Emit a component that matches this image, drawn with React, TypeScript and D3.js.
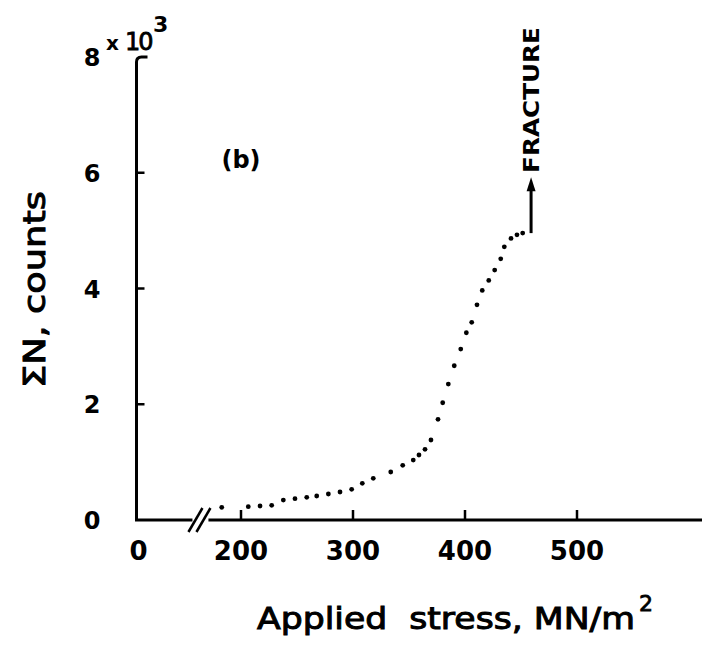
import React from "react";
import * as d3 from "d3";

// Applied stress (MN/m^2) and cumulative counts (ΣN)
const stress = [
  182.8, 206.5, 217, 227.4, 237.8, 248.2, 258.7, 267.6, 278, 288.4, 298.8, 308.3,
  318.1, 333.7, 344.4, 353.8, 358.9, 364.3, 369.6, 375.9, 380.1, 385.1, 390.4,
  396.2, 401.2, 406, 410.7, 415.4, 421.2, 426.5, 431.9, 435.1, 441.1, 446.4, 451.5,
];
const counts = [
  219, 230, 242, 254, 345, 368, 392, 415, 449, 484, 530, 634, 720, 829, 945, 1036,
  1123, 1221, 1382, 1739, 2026, 2349, 2665, 2953, 3235, 3415, 3718, 3967, 4140,
  4318, 4513, 4720, 4865, 4927, 4957,
];
const xTicks = [200, 300, 400, 500];
const yTicks = [0, 2000, 4000, 6000, 8000];
const yTickLabels = ["0", "2", "4", "6", "8"];
const fractureStress = 459;
const fractureFrom = 4957;
const fractureTo = 5750;
const breakValue = 162;

const FONT = "'DejaVu Sans', sans-serif";

export default function App() {
  const x = d3.scaleLinear().domain([200, 500]).range([241, 577]);
  const y = d3.scaleLinear().domain([0, 8000]).range([520, 57]);
  const x0 = 136.5;
  const y0 = y(0);
  const bx = x(breakValue);
  const fx = x(fractureStress);

  const tickMarks = yTicks.filter((t) => t > 0 && t < 8000);

  return (
    <svg width={702} height={652} style={{ position: "absolute", left: 0, top: 0, background: "#fff" }}>
      {/* y axis with hook at top */}
      <path
        d={`M${x0},${y0} V${y(8000) + 5} Q${x0},${y(8000)} ${x0 + 5},${y(8000)} H${x0 + 11}`}
        fill="none"
        stroke="#000"
        strokeWidth={3}
      />
      {tickMarks.map((t) => (
        <line key={t} x1={x0} x2={x0 + 8} y1={y(t)} y2={y(t)} stroke="#000" strokeWidth={2.5} />
      ))}
      {/* x axis with break */}
      <line x1={x0 - 1.5} x2={bx - 6} y1={y0} y2={y0} stroke="#000" strokeWidth={3} />
      <line x1={bx + 10} x2={702} y1={y0} y2={y0} stroke="#000" strokeWidth={3} />
      <line x1={bx - 10} y1={y0 + 12} x2={bx + 4} y2={y0 - 12} stroke="#000" strokeWidth={2.5} />
      <line x1={bx - 2} y1={y0 + 12} x2={bx + 12} y2={y0 - 12} stroke="#000" strokeWidth={2.5} />
      {xTicks.map((t) => (
        <line key={t} x1={x(t)} x2={x(t)} y1={y0} y2={y0 - 10} stroke="#000" strokeWidth={2.5} />
      ))}
      {/* tick labels */}
      <g fontFamily={FONT} fontWeight="bold" fill="#000">
        <text x={x0 + 2} y={560} fontSize={26} textAnchor="middle">0</text>
        {xTicks.map((t) => (
          <text key={t} x={x(t)} y={560} fontSize={26} textAnchor="middle">
            {t}
          </text>
        ))}
        {yTicks.map((t, i) => (
          <text key={t} x={92} y={y(t) + 9} fontSize={24} textAnchor="middle">
            {yTickLabels[i]}
          </text>
        ))}
        <text x={106} y={50} fontSize={20}>x</text>
        <text x={125} y={50} fontSize={24} fontWeight="normal" letterSpacing={-2} stroke="#000" strokeWidth={0.8}>10</text>
        <text x={153} y={32} fontSize={22}>3</text>
        <text x={241} y={168} fontSize={24} textAnchor="middle">(b)</text>
      </g>
      {/* axis titles */}
      <text
        x={257}
        y={629}
        fontFamily={FONT}
        fontSize={31}
        fill="#000"
        stroke="#000"
        strokeWidth={1}
        textLength={378}
        lengthAdjust="spacingAndGlyphs"
        style={{ whiteSpace: "pre" }}
      >
        {"Applied  stress, MN/m"}
      </text>
      <text x={639} y={611} fontFamily={FONT} fontSize={22} fill="#000" stroke="#000" strokeWidth={0.8}>2</text>
      <text
        transform={`translate(45,388) rotate(-90)`}
        fontFamily={FONT}
        fontSize={31}
        fill="#000"
        stroke="#000"
        strokeWidth={1}
        textLength={197}
        lengthAdjust="spacingAndGlyphs"
      >
        ΣN, counts
      </text>
      {/* data points */}
      {stress.map((s, i) => (
        <circle key={i} cx={x(s)} cy={y(counts[i])} r={2.4} fill="#000" />
      ))}
      {/* fracture arrow */}
      <line x1={fx} x2={fx} y1={y(fractureFrom)} y2={y(fractureTo) + 2} stroke="#000" strokeWidth={3} />
      <path
        d={`M${fx},${y(fractureTo) - 10} L${fx - 4.5},${y(fractureTo) + 4} L${fx + 4.5},${y(fractureTo) + 4} Z`}
        fill="#000"
      />
      <text
        transform={`translate(${fx + 8},173) rotate(-90)`}
        fontFamily={FONT}
        fontWeight="bold"
        fontSize={22}
        fill="#000"
        textLength={146}
        lengthAdjust="spacingAndGlyphs"
      >
        FRACTURE
      </text>
    </svg>
  );
}
